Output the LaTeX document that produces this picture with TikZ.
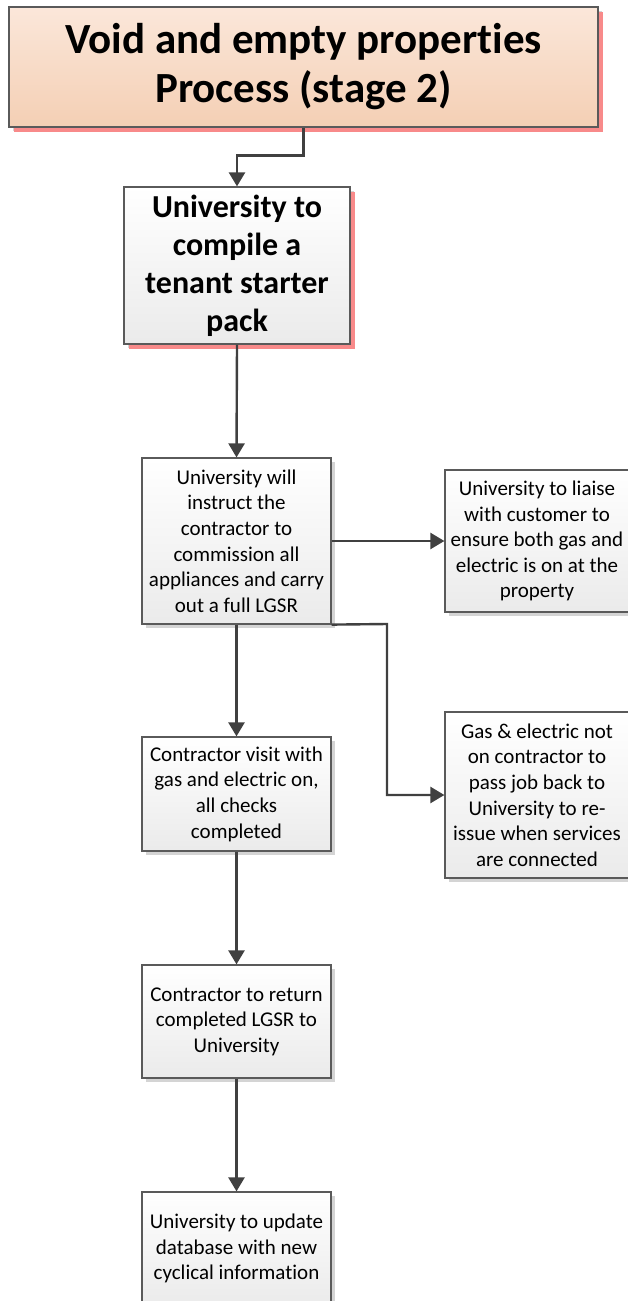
\documentclass[tikz,border=0pt]{standalone}
\usepackage{fontspec}
\setmainfont[Ligatures={NoCommon}]{Carlito}
\usetikzlibrary{arrows.meta,shadows}

\definecolor{edge}{HTML}{5A5A5A}
\definecolor{wire}{HTML}{404040}
\definecolor{peachtop}{HTML}{FBE7DA}
\definecolor{peachbot}{HTML}{F4CFB4}
\definecolor{pinkshade}{HTML}{F88A8A}
\definecolor{greyshade}{HTML}{D4D4D4}

\tikzset{
  procbox/.style={draw=edge, line width=1.2pt, align=center, inner sep=2pt,
    top color=white, bottom color=black!8,
    drop shadow={shadow xshift=4pt, shadow yshift=-4pt, fill=greyshade, opacity=1},
    font=\fontsize{21}{25.6}\selectfont},
  keybox/.style={procbox,
    drop shadow={shadow xshift=5pt, shadow yshift=-5pt, fill=pinkshade, opacity=1},
    font=\fontsize{32}{38}\selectfont\bfseries},
  titlebox/.style={keybox, top color=peachtop, bottom color=peachbot,
    font=\fontsize{43}{49}\selectfont\bfseries},
  flow/.style={draw=wire, line width=2.4pt,
    -{Triangle[width=16pt,length=14pt]}},
}

\begin{document}
\begin{tikzpicture}[x=1pt,y=-1pt]
\useasboundingbox (0,0) rectangle (628,1301);
\clip (0,0) rectangle (628,1301);

% stage header
\node[titlebox, minimum width=589pt, minimum height=120pt] (title) at (303.5,67)
  {Void and empty properties\\Process (stage 2)};

% main column
\node[keybox, minimum width=226pt, minimum height=157pt] (pack) at (237,265.5)
  {University to\\compile a\\tenant starter\\pack};
\node[procbox, minimum width=189pt, minimum height=166pt] (instruct) at (236.5,541)
  {University will\\instruct the\\contractor to\\commission all\\appliances and carry\\out a full LGSR};
\node[procbox, minimum width=189pt, minimum height=114pt] (visit) at (236.5,794)
  {Contractor visit with\\gas and electric on,\\all checks\\completed};
\node[procbox, minimum width=189pt, minimum height=113pt] (return) at (236.5,1021.5)
  {Contractor to return\\completed LGSR to\\University};
\node[procbox, minimum width=189pt, minimum height=113pt] (update) at (236.5,1248.5)
  {University to update\\database with new\\cyclical information};

% side column
\node[procbox, minimum width=184pt, minimum height=142pt] (liaise) at (537,541)
  {University to liaise\\with customer to\\ensure both gas and\\electric is on at the\\property};
\node[procbox, minimum width=184pt, minimum height=166pt] (noservice) at (537,795)
  {Gas \& electric not\\on contractor to\\pass job back to\\University to re-\\issue when services\\are connected};

% connectors
\draw[flow] (title.south) -- ++(0,28) -| (pack.north);
\draw[flow] (pack.south) -- (instruct.north);
\draw[flow] (instruct.east) -- (liaise.west);
\draw[flow] (instruct.south) -- (visit.north);
\coordinate (bend) at (387,624);
\draw[flow] (instruct.south east) -- (bend) |- (noservice.west);
\draw[flow] (visit.south) -- (return.north);
\draw[flow] (return.south) -- (update.north);
\end{tikzpicture}
\end{document}
